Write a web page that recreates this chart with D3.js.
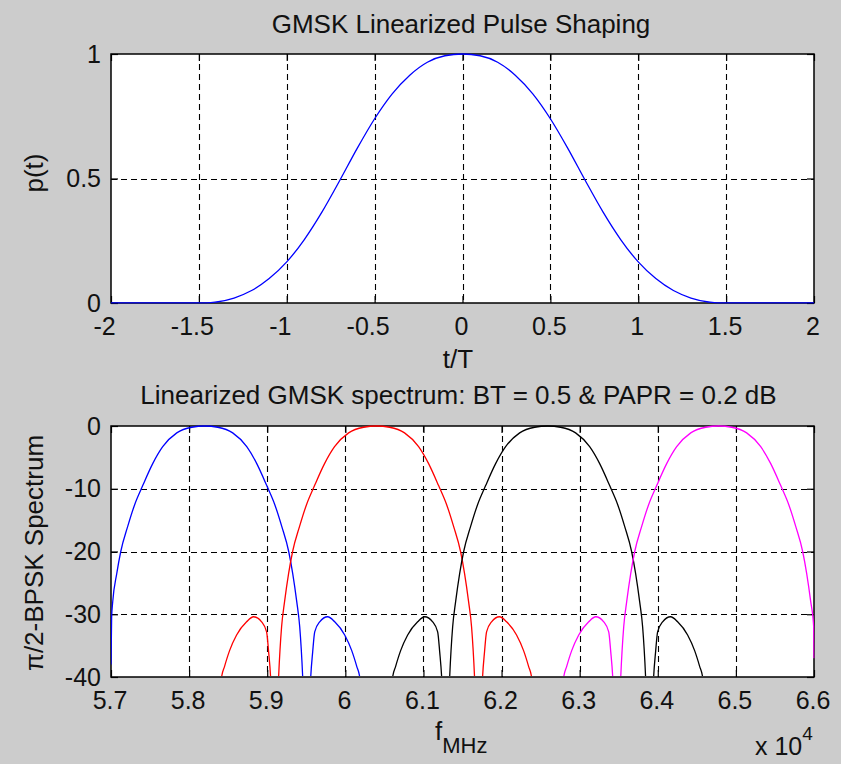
<!DOCTYPE html>
<html><head><meta charset="utf-8">
<script src="https://cdn.jsdelivr.net/npm/d3@7"></script>
<style>
html,body{margin:0;padding:0;background:#cccccc;}
svg{display:block;}
text{font-family:"Liberation Sans",Arial,Helvetica,sans-serif;fill:#111;}
</style></head><body>
<svg id="chart" width="841" height="764"></svg>
<script>
// ---------- DATA ----------
// Top: linearized GMSK pulse p(t)
const pulseT = [-2,-1.45,-1.4,-1.3,-1.2,-1.1,-1.0,-0.9,-0.8,-0.7,-0.6,-0.5,-0.4,-0.3,-0.2,-0.1,0,0.1,0.2,0.3,0.4,0.5,0.6,0.7,0.8,0.9,1.0,1.1,1.2,1.3,1.4,1.45,2];
const pulseP = [0,0,0.004,0.02,0.05,0.098,0.165,0.255,0.365,0.49,0.62,0.74,0.84,0.915,0.967,0.993,1,0.993,0.967,0.915,0.84,0.74,0.62,0.49,0.365,0.255,0.165,0.098,0.05,0.02,0.004,0,0];
const pulseTicksX = [-2,-1.5,-1,-0.5,0,0.5,1,1.5,2];
const pulseTicksY = [0,0.5,1];

// Bottom: spectra [frequency, dB]
const blueSpec = [[57000,-38],[57008,-30.5],[57022,-28],[57074,-23.5],[57125,-20],[57214,-16],[57304,-12.5],[57406,-9.5],[57534,-6],[57662,-3.3],[57842,-1.1],[58034,-0.2],[58200,0],[58366,-0.2],[58558,-1.1],[58738,-3.3],[58866,-6],[58994,-9.5],[59096,-12.5],[59186,-16],[59275,-20],[59326,-23.5],[59378,-28],[59416,-32],[59454,-40],[59505,-60],[59557,-40],[59582,-36],[59608,-32.8],[59672,-31.2],[59774,-30.4],[59864,-31.2],[59992,-33.3],[60082,-35.8],[60146,-38.3],[60184,-40],[60230,-60]];
const redSpec = [[58370,-60],[58416,-40],[58454,-38.3],[58518,-35.8],[58608,-33.3],[58736,-31.2],[58826,-30.4],[58928,-31.2],[58992,-32.8],[59018,-36],[59043,-40],[59095,-60],[59146,-40],[59184,-32],[59222,-28],[59274,-23.5],[59325,-20],[59414,-16],[59504,-12.5],[59606,-9.5],[59734,-6],[59862,-3.3],[60042,-1.1],[60234,-0.2],[60400,0],[60566,-0.2],[60758,-1.1],[60938,-3.3],[61066,-6],[61194,-9.5],[61296,-12.5],[61386,-16],[61475,-20],[61526,-23.5],[61578,-28],[61616,-32],[61654,-40],[61705,-60],[61757,-40],[61782,-36],[61808,-32.8],[61872,-31.2],[61974,-30.4],[62064,-31.2],[62192,-33.3],[62282,-35.8],[62346,-38.3],[62384,-40],[62430,-60]];
const blackSpec = [[60560,-60],[60606,-40],[60644,-38.3],[60708,-35.8],[60798,-33.3],[60926,-31.2],[61016,-30.4],[61118,-31.2],[61182,-32.8],[61208,-36],[61233,-40],[61285,-60],[61336,-40],[61374,-32],[61412,-28],[61464,-23.5],[61515,-20],[61604,-16],[61694,-12.5],[61796,-9.5],[61924,-6],[62052,-3.3],[62232,-1.1],[62424,-0.2],[62590,0],[62756,-0.2],[62948,-1.1],[63128,-3.3],[63256,-6],[63384,-9.5],[63486,-12.5],[63576,-16],[63665,-20],[63716,-23.5],[63768,-28],[63806,-32],[63844,-40],[63895,-60],[63947,-40],[63972,-36],[63998,-32.8],[64062,-31.2],[64164,-30.4],[64254,-31.2],[64382,-33.3],[64472,-35.8],[64536,-38.3],[64574,-40],[64620,-60]];
const magentaSpec = [[62750,-60],[62796,-40],[62834,-38.3],[62898,-35.8],[62988,-33.3],[63116,-31.2],[63206,-30.4],[63308,-31.2],[63372,-32.8],[63398,-36],[63423,-40],[63475,-60],[63526,-40],[63564,-32],[63602,-28],[63654,-23.5],[63705,-20],[63794,-16],[63884,-12.5],[63986,-9.5],[64114,-6],[64242,-3.3],[64422,-1.1],[64614,-0.2],[64780,0],[64946,-0.2],[65138,-1.1],[65318,-3.3],[65446,-6],[65574,-9.5],[65676,-12.5],[65766,-16],[65855,-20],[65906,-23.5],[65958,-28],[65996,-32],[66000,-37]];
const specColors = ["#0000ff","#ff0000","#000000","#ff00ff"];
const specTicksX = [57000,58000,59000,60000,61000,62000,63000,64000,65000,66000];
const specTickLabels = ["5.7","5.8","5.9","6","6.1","6.2","6.3","6.4","6.5","6.6"];
const specTicksY = [-40,-30,-20,-10,0];

// ---------- LAYOUT ----------
const svg = d3.select("#chart");
const top1 = {x0:111, x1:814, y0:54, y1:303};
const bot1 = {x0:111, x1:814, y0:426, y1:677};
const TICK = 7, FS = 25, FT = 26;

function panel(box, xs, ys, xt, yt, xfmt, yfmt, id, series, curveFn){
  const g = svg.append("g");
  g.append("rect").attr("x",box.x0).attr("y",box.y0)
   .attr("width",box.x1-box.x0).attr("height",box.y1-box.y0).attr("fill","#fff");
  // grid
  const grid = g.append("g").attr("stroke","#000").attr("stroke-width",1.1).attr("stroke-dasharray","6,4");
  xt.filter(v=>v>xs.domain()[0] && v<xs.domain()[1]).forEach(v=>{
    grid.append("line").attr("x1",Math.round(xs(v))+0.5).attr("x2",Math.round(xs(v))+0.5)
      .attr("y1",box.y0).attr("y2",box.y1);
  });
  yt.filter(v=>v>ys.domain()[0] && v<ys.domain()[1]).forEach(v=>{
    grid.append("line").attr("y1",Math.round(ys(v))+0.5).attr("y2",Math.round(ys(v))+0.5)
      .attr("x1",box.x0).attr("x2",box.x1);
  });
  // axes
  const ax = d3.axisBottom(xs).tickValues(xt).tickFormat(xfmt).tickSizeInner(-TICK).tickSizeOuter(0).tickPadding(14);
  const axB = g.append("g").attr("transform",`translate(0,${box.y1})`).call(ax);
  const axT = g.append("g").attr("transform",`translate(0,${box.y0})`)
     .call(d3.axisTop(xs).tickValues(xt).tickFormat("").tickSizeInner(-TICK).tickSizeOuter(0));
  const ayL = g.append("g").attr("transform",`translate(${box.x0},0)`)
     .call(d3.axisLeft(ys).tickValues(yt).tickFormat(yfmt).tickSizeInner(-TICK).tickSizeOuter(0).tickPadding(10));
  const ayR = g.append("g").attr("transform",`translate(${box.x1},0)`)
     .call(d3.axisRight(ys).tickValues(yt).tickFormat("").tickSizeInner(-TICK).tickSizeOuter(0));
  [axB,axT,ayL,ayR].forEach(a=>{
    a.select(".domain").remove();
    a.selectAll(".tick line").attr("stroke","#000").attr("stroke-width",1.2);
    a.selectAll("text").attr("font-size",FS).attr("fill","#111")
      .attr("font-family",'"Liberation Sans",Arial,sans-serif');
  });
  axB.selectAll(".tick text").attr("dx", d => (d<0 ? -7 : -1.5));
  // box
  g.append("rect").attr("x",box.x0).attr("y",box.y0)
   .attr("width",box.x1-box.x0).attr("height",box.y1-box.y0)
   .attr("fill","none").attr("stroke","#000").attr("stroke-width",1.5);
  // data
  svg.append("clipPath").attr("id",id).append("rect")
    .attr("x",box.x0).attr("y",box.y0-1).attr("width",box.x1-box.x0+0.5).attr("height",box.y1-box.y0+(id==="c1"?1.5:0));
  const dg = g.append("g").attr("clip-path",`url(#${id})`);
  series.forEach(s=>{
    const line = d3.line().x(d=>xs(d[0])).y(d=>ys(d[1])).curve(curveFn);
    dg.append("path").datum(s.data).attr("d",line).attr("fill","none")
      .attr("stroke",s.color).attr("stroke-width",1.3).attr("stroke-linejoin","round");
  });
}

// top
const xT = d3.scaleLinear().domain([-2,2]).range([top1.x0, top1.x1]);
const yT = d3.scaleLinear().domain([0,1]).range([top1.y1, top1.y0]);
const pulseData = pulseT.map((t,i)=>[t,pulseP[i]]);
panel(top1, xT, yT, pulseTicksX, pulseTicksY, d=>String(d), d=>String(d), "c1",
  [{data:pulseData, color:"#0000ff"}], d3.curveMonotoneX);

// bottom
const xB = d3.scaleLinear().domain([57000,66000]).range([bot1.x0, bot1.x1]);
const yB = d3.scaleLinear().domain([-40,0]).range([bot1.y1, bot1.y0]);
panel(bot1, xB, yB, specTicksX, specTicksY, (d,i)=>specTickLabels[i], d=>String(d), "c2",
  [blueSpec, redSpec, blackSpec, magentaSpec].map((s,i)=>({data:s, color:specColors[i]})), d3.curveMonotoneX);

// ---------- TEXT ----------
const T = (x,y,s,o={})=>svg.append("text").attr("x",x).attr("y",y).attr("font-size",o.fs||FT)
  .attr("text-anchor",o.anchor||"middle").text(s);
T(461, 33, "GMSK Linearized Pulse Shaping");
T(458, 368, "t/T");
T(458.5, 404, "Linearized GMSK spectrum: BT = 0.5 & PAPR = 0.2 dB");
svg.append("text").attr("transform","translate(43,173) rotate(-90)").attr("text-anchor","middle")
  .attr("font-size",FT).text("p(t)");
svg.append("text").attr("transform","translate(43,553) rotate(-90)").attr("text-anchor","middle")
  .attr("font-size",FT).text("\u03c0/2-BPSK Spectrum");
const fl = svg.append("text").attr("x",435).attr("y",740).attr("font-size",FT).attr("text-anchor","start");
fl.append("tspan").text("f");
fl.append("tspan").attr("dy",13).attr("font-size",22).text("MHz");
const ex = svg.append("text").attr("x",755).attr("y",755).attr("font-size",FS).attr("text-anchor","start");
ex.append("tspan").text("x 10");
ex.append("tspan").attr("dy",-15).attr("font-size",19).text("4");
</script>
</body></html>
